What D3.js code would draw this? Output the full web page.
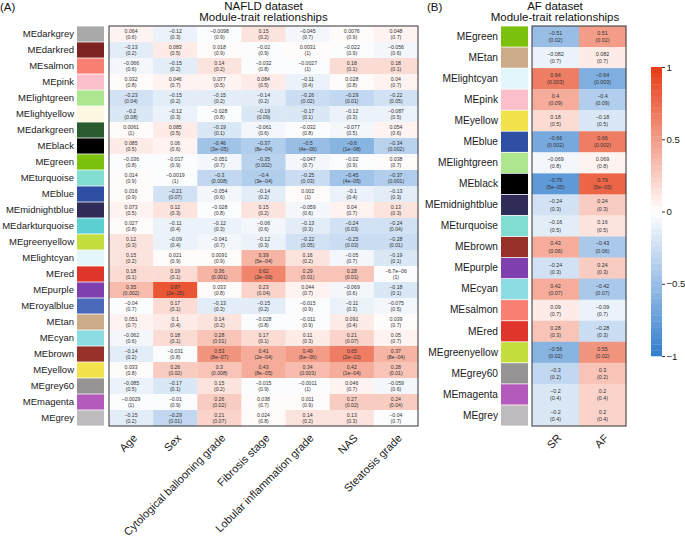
<!DOCTYPE html>
<html>
<head>
<meta charset="utf-8">
<script src="https://cdn.jsdelivr.net/npm/d3@7"></script>
<style>
  html, body { margin: 0; padding: 0; background: #fff; }
  svg { display: block; font-family: "Liberation Sans", Arial, Helvetica, sans-serif; }
</style>
</head>
<body>
<svg id="chart" width="685" height="541"></svg>
<script>
// ---------------- DATA ----------------
const modulesA = ["MEdarkgrey","MEdarkred","MEsalmon","MEpink","MElightgreen","MElightyellow","MEdarkgreen","MEblack","MEgreen","MEturquoise","MEblue","MEmidnightblue","MEdarkturquoise","MEgreenyellow","MElightcyan","MEred","MEpurple","MEroyalblue","MEtan","MEcyan","MEbrown","MEyellow","MEgrey60","MEmagenta","MEgrey"];
const traitsA = ["Age","Sex","Cytological ballooning grade","Fibrosis stage","Lobular inflammation grade","NAS","Steatosis grade"];
const corA = [
  [0.064,-0.12,-0.0098,0.15,-0.045,0.0076,0.048],
  [-0.13,0.083,0.018,-0.02,0.0031,-0.022,-0.056],
  [-0.066,-0.15,0.14,-0.032,-0.0027,0.18,0.18],
  [0.032,0.046,0.077,0.084,-0.11,0.028,0.04],
  [-0.23,-0.15,-0.15,-0.14,-0.26,-0.29,-0.22],
  [-0.2,-0.12,-0.028,-0.19,-0.17,-0.12,-0.087],
  [0.0061,0.085,-0.19,-0.061,-0.032,-0.077,0.054],
  [0.085,0.06,-0.46,-0.37,-0.5,-0.6,-0.34],
  [-0.036,-0.017,-0.051,-0.35,-0.047,-0.02,0.038],
  [0.014,-0.0019,-0.3,-0.4,-0.25,-0.45,-0.37],
  [0.016,-0.21,-0.054,-0.14,0.002,-0.1,-0.13],
  [0.073,0.12,-0.028,0.15,-0.059,0.04,0.13],
  [0.027,-0.11,-0.12,-0.06,-0.13,-0.24,-0.24],
  [0.12,-0.09,-0.041,-0.12,-0.22,-0.25,-0.28],
  [0.15,0.021,0.0091,0.39,0.16,-0.05,-0.19],
  [0.18,0.19,0.36,0.62,0.29,0.28,-6.7e-6],
  [0.35,0.87,0.033,0.23,0.044,-0.069,-0.18],
  [-0.04,0.17,-0.13,-0.15,-0.015,-0.11,-0.075],
  [0.051,0.1,0.14,-0.028,-0.011,0.091,0.039],
  [-0.062,0.18,0.28,0.17,0.11,0.21,0.05],
  [-0.14,-0.031,0.53,0.41,0.49,0.65,0.37],
  [0.033,0.26,0.3,0.43,0.34,0.42,0.28],
  [-0.085,-0.17,0.15,-0.015,-0.0011,0.046,-0.059],
  [-0.0029,-0.01,0.26,0.038,0.011,0.27,0.24],
  [-0.15,-0.29,0.21,0.024,0.14,0.13,-0.04]
];
const pA = [
  ["0.6","0.3","0.9","0.2","0.7","0.9","0.7"],
  ["0.2","0.5","0.9","0.9","1","0.9","0.6"],
  ["0.6","0.2","0.2","0.8","1","0.1","0.1"],
  ["0.8","0.7","0.5","0.5","0.4","0.8","0.7"],
  ["0.04","0.2","0.2","0.2","0.02","0.01","0.05"],
  ["0.08","0.3","0.8","0.09","0.1","0.3","0.5"],
  ["1","0.5","0.1","0.6","0.8","0.5","0.6"],
  ["0.5","0.6","3e-05","8e-04","4e-06","1e-08","0.002"],
  ["0.8","0.9","0.7","0.002","0.7","0.9","0.7"],
  ["0.9","1","0.008","3e-04","0.03","4e-05","0.001"],
  ["0.9","0.07","0.6","0.2","1","0.4","0.3"],
  ["0.5","0.3","0.8","0.2","0.6","0.7","0.3"],
  ["0.8","0.4","0.3","0.6","0.3","0.03","0.04"],
  ["0.3","0.4","0.7","0.3","0.05","0.03","0.01"],
  ["0.2","0.9","0.9","5e-04","0.2","0.7","0.1"],
  ["0.1","0.1","0.001","2e-09","0.01","0.01","1"],
  ["0.002","2e-25","0.8","0.04","0.7","0.6","0.1"],
  ["0.7","0.1","0.3","0.2","0.9","0.3","0.5"],
  ["0.7","0.4","0.2","0.8","0.9","0.4","0.7"],
  ["0.6","0.1","0.01","0.1","0.3","0.07","0.7"],
  ["0.2","0.8","8e-07","2e-04","6e-06","2e-10","8e-04"],
  ["0.8","0.02","0.008","8e-05","0.003","1e-04","0.01"],
  ["0.5","0.1","0.2","0.9","1","0.7","0.6"],
  ["1","0.9","0.02","0.7","0.9","0.02","0.04"],
  ["0.2","0.01","0.07","0.8","0.2","0.3","0.7"]
];

const modulesB = ["MEgreen","MEtan","MElightcyan","MEpink","MEyellow","MEblue","MElightgreen","MEblack","MEmidnightblue","MEturquoise","MEbrown","MEpurple","MEcyan","MEsalmon","MEred","MEgreenyellow","MEgrey60","MEmagenta","MEgrey"];
const traitsB = ["SR","AF"];
const corB = [
  [-0.51,0.51],[-0.082,0.082],[0.64,-0.64],[0.4,-0.4],[0.18,-0.18],[-0.66,0.66],
  [-0.069,0.069],[-0.79,0.79],[-0.24,0.24],[-0.16,0.16],[0.43,-0.43],[-0.24,0.24],
  [0.42,-0.42],[0.09,-0.09],[0.28,-0.28],[-0.56,0.55],[-0.3,0.3],[-0.2,0.2],[-0.2,0.2]
];
const pB = [
  ["0.02","0.02"],["0.7","0.7"],["0.003","0.003"],["0.09","0.09"],["0.5","0.5"],["0.002","0.002"],
  ["0.8","0.8"],["5e-05","5e-05"],["0.3","0.3"],["0.5","0.5"],["0.06","0.06"],["0.3","0.3"],
  ["0.07","0.07"],["0.7","0.7"],["0.3","0.3"],["0.02","0.02"],["0.2","0.2"],["0.4","0.4"],["0.4","0.4"]
];

const moduleColor = {
  MEdarkgrey:"#a9a9a9", MEdarkred:"#7d2323", MEsalmon:"#f98072", MEpink:"#fbbfcb",
  MElightgreen:"#ade68e", MElightyellow:"#fcf8e2", MEdarkgreen:"#2b5c30", MEblack:"#000000",
  MEgreen:"#7cc10c", MEturquoise:"#80ddd0", MEblue:"#2e4fa3", MEmidnightblue:"#2f2d58",
  MEdarkturquoise:"#5ccfd2", MEgreenyellow:"#c3de3e", MElightcyan:"#e3f6f9", MEred:"#e0352a",
  MEpurple:"#7f3faf", MEroyalblue:"#4b6abb", MEtan:"#ccab88", MEcyan:"#8cdde2",
  MEbrown:"#963029", MEyellow:"#f2e34a", MEgrey60:"#969394", MEmagenta:"#b55abd", MEgrey:"#bdbbbd"
};
const colorTicks = [-1,-0.5,0,0.5,1];

// ---------------- HELPERS ----------------
const minus = s => s.replace(/-/g, "\u2212");
function fmtVal(v) {
  if (v !== 0 && Math.abs(v) < 1e-4) {
    const [m, e] = v.toExponential(1).split("e");
    const ex = parseInt(e, 10);
    return minus(m + "e" + (ex < 0 ? "-" : "+") + String(Math.abs(ex)).padStart(2, "0"));
  }
  return minus(String(v));
}
const color = d3.scaleLinear().domain([-1, 0, 1]).range(["#327dcd", "#ffffff", "#e63a12"]).clamp(true);
const nSteps = 50;
const stepColor = v => {
  const k = Math.min(nSteps - 1, Math.floor((v + 1) / 2 * nSteps));
  return color(-1 + (k + 0.5) * 2 / nSteps);
};

const svg = d3.select("#chart");
const FONT = '"Liberation Sans", Arial, Helvetica, sans-serif';

function heatmap(opts) {
  const { modules, traits, cor, p, x0, x1, y0, y1, swX0, swX1, labelX, cellFont, title, titleX, panel, panelX } = opts;
  const g = svg.append("g");
  const xS = d3.scaleBand().domain(traits).range([x0, x1]);
  const yS = d3.scaleBand().domain(modules).range([y0, y1]);
  const cells = [];
  modules.forEach((m, i) => traits.forEach((t, j) => cells.push({ m, t, v: cor[i][j], p: p[i][j] })));

  g.selectAll("rect.cell").data(cells).join("rect")
    .attr("class", "cell")
    .attr("x", d => xS(d.t)).attr("y", d => yS(d.m))
    .attr("width", xS.bandwidth() + 0.3).attr("height", yS.bandwidth() + 0.3)
    .attr("fill", d => stepColor(d.v));

  const off = opts.textOff;
  g.selectAll("text.val").data(cells).join("text")
    .attr("x", d => xS(d.t) + xS.bandwidth() / 2)
    .attr("y", d => yS(d.m) + yS.bandwidth() / 2 - off)
    .attr("text-anchor", "middle").attr("dominant-baseline", "central")
    .attr("font-size", cellFont).attr("fill", "#333")
    .text(d => fmtVal(d.v));
  g.selectAll("text.pv").data(cells).join("text")
    .attr("x", d => xS(d.t) + xS.bandwidth() / 2)
    .attr("y", d => yS(d.m) + yS.bandwidth() / 2 + off)
    .attr("text-anchor", "middle").attr("dominant-baseline", "central")
    .attr("font-size", cellFont).attr("fill", "#333")
    .text(d => "(" + minus(d.p) + ")");

  g.append("rect").attr("x", x0).attr("y", y0).attr("width", x1 - x0).attr("height", y1 - y0)
    .attr("fill", "none").attr("stroke", "#444").attr("stroke-width", 1.1);

  // module swatches
  g.selectAll("rect.sw").data(modules).join("rect")
    .attr("x", swX0).attr("y", d => yS(d) + 0.4)
    .attr("width", swX1 - swX0).attr("height", yS.bandwidth() - 0.8)
    .attr("fill", d => moduleColor[d]);

  // row labels
  const ya = g.append("g").attr("transform", `translate(${labelX},0)`)
    .call(d3.axisLeft(yS).tickSize(0).tickPadding(0));
  ya.select(".domain").remove();
  ya.selectAll("text").attr("font-size", opts.rowFont).attr("font-family", FONT).attr("fill", "#1a1a1a");

  // column labels
  const xa = g.append("g").attr("transform", `translate(0,${y1})`)
    .call(d3.axisBottom(xS).tickSize(0).tickPadding(0));
  xa.select(".domain").remove();
  xa.selectAll("text")
    .attr("x", 0).attr("y", 0).attr("dy", "0.35em")
    .attr("text-anchor", "end")
    .attr("transform", "translate(4,10) rotate(-45)")
    .attr("font-size", 11).attr("font-family", FONT).attr("fill", "#1a1a1a");

  // titles
  g.append("text").attr("x", titleX).attr("y", 9.5).attr("text-anchor", "middle")
    .attr("font-size", 11.5).attr("fill", "#111").text(title[0]);
  g.append("text").attr("x", titleX).attr("y", 20.5).attr("text-anchor", "middle")
    .attr("font-size", 11.5).attr("fill", "#111").text(title[1]);
  g.append("text").attr("x", panelX).attr("y", 11).attr("font-size", 11.5).attr("fill", "#111").text(panel);
}

heatmap({
  modules: modulesA, traits: traitsA, cor: corA, p: pA,
  x0: 109, x1: 418, y0: 26, y1: 426, swX0: 77, swX1: 104, labelX: 74,
  cellFont: 5.2, textOff: 3.3, rowFont: 9.5,
  title: ["NAFLD dataset", "Module-trait relationships"], titleX: 263.5, panel: "(A)", panelX: 0
});
heatmap({
  modules: modulesB, traits: traitsB, cor: corB, p: pB,
  x0: 532, x1: 626, y0: 26, y1: 426, swX0: 501, swX1: 528, labelX: 498,
  cellFont: 5.4, textOff: 3.6, rowFont: 10.2,
  title: ["AF dataset", "Module-trait relationships"], titleX: 555, panel: "(B)", panelX: 427
});

// ---------------- COLOR BAR ----------------
const cb = d3.scaleLinear().domain([-1, 1]).range([356, 67]);
const steps = d3.range(nSteps).map(k => -1 + k * 2 / nSteps);
const cg = svg.append("g");
cg.selectAll("rect").data(steps).join("rect")
  .attr("x", 651).attr("width", 11)
  .attr("y", d => cb(d + 2 / nSteps))
  .attr("height", d => cb(d) - cb(d + 2 / nSteps) + 0.3)
  .attr("fill", d => color(d + 1 / nSteps));
const ca = cg.append("g").attr("transform", "translate(662,0)")
  .call(d3.axisRight(cb).tickValues(colorTicks).tickSize(3).tickPadding(1.5).tickFormat(d3.format("")));
ca.select(".domain").remove();
ca.selectAll("line").attr("stroke", "#333");
ca.selectAll("text").attr("font-size", 9.6).attr("font-family", FONT).attr("fill", "#1a1a1a");
</script>
</body>
</html>
